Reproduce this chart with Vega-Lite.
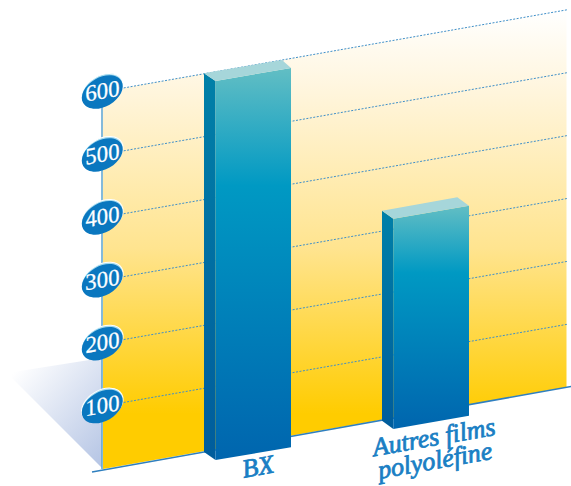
{
"$schema":"https://vega.github.io/schema/vega-lite/v6.json",
"width":571,"height":486,"padding":0,
"autosize":{"type":"none"},
"background":"white",
"config":{"view":{"stroke":null}},
"data":{"values":[
{"part":"wall","pos":103,"level":600,"low":0},
{"part":"wall","pos":566.5,"level":730,"low":130},
{"part":"shadow","pos":7,"level":152.6,"low":152.6},
{"part":"shadow","pos":102,"level":176.5,"low":1.6},
{"part":"grid","tick":100,"pos":103,"level":100},{"part":"grid","tick":100,"pos":567,"level":230},
{"part":"grid","tick":200,"pos":103,"level":200},{"part":"grid","tick":200,"pos":567,"level":330},
{"part":"grid","tick":300,"pos":103,"level":300},{"part":"grid","tick":300,"pos":567,"level":430},
{"part":"grid","tick":400,"pos":103,"level":400},{"part":"grid","tick":400,"pos":567,"level":530},
{"part":"grid","tick":500,"pos":103,"level":500},{"part":"grid","tick":500,"pos":567,"level":630},
{"part":"grid","tick":600,"pos":103,"level":600},{"part":"grid","tick":600,"pos":567,"level":730},
{"part":"axis","pos":102,"level":0,"low":620},
{"part":"base","pos":92,"level":-4.8},{"part":"base","pos":571,"level":131.2},
{"part":"side","bar":"BX","pos":204,"level":629.1,"low":27},
{"part":"side","bar":"BX","pos":215.5,"level":616.9,"low":14.3},
{"part":"front","bar":"BX","pos":215.5,"level":616.9,"low":14.3},
{"part":"front","bar":"BX","pos":291,"level":637.5,"low":34.5},
{"part":"top","bar":"BX","pos":204,"level":629.1,"low":629.1},
{"part":"top","bar":"BX","pos":215.5,"level":632.3,"low":616.9},
{"part":"top","bar":"BX","pos":282,"level":650.2,"low":635},
{"part":"top","bar":"BX","pos":291,"level":637.5,"low":637.5},
{"part":"side2","bar":"Autres","pos":382,"level":410.7,"low":76.8},
{"part":"side2","bar":"Autres","pos":393.3,"level":397.9,"low":63.6},
{"part":"front2","bar":"Autres","pos":393.3,"level":397.9,"low":63.6},
{"part":"front2","bar":"Autres","pos":469,"level":418.6,"low":84.7},
{"part":"top2","bar":"Autres","pos":382,"level":410.7,"low":410.7},
{"part":"top2","bar":"Autres","pos":393.3,"level":413.7,"low":397.9},
{"part":"top2","bar":"Autres","pos":457.3,"level":432,"low":415.4},
{"part":"top2","bar":"Autres","pos":469,"level":418.6,"low":418.6},
{"part":"oval","pos":102.3,"level":600,"label":"600"},
{"part":"oval","pos":102.3,"level":500,"label":"500"},
{"part":"oval","pos":102.3,"level":400,"label":"400"},
{"part":"oval","pos":102.3,"level":300,"label":"300"},
{"part":"oval","pos":102.3,"level":200,"label":"200"},
{"part":"oval","pos":102.3,"level":100,"label":"100"},
{"part":"cat","pos":258,"level":3,"label":"BX"},
{"part":"cat","pos":434,"level":50,"label":"Autres films"},
{"part":"cat","pos":435,"level":13,"label":"polyoléfine"}
]},
"encoding":{
"x":{"field":"pos","type":"quantitative","scale":{"domain":[0,571],"nice":false,"zero":false},"axis":null},
"y":{"field":"level","type":"quantitative","scale":{"domain":[-27.03,745.6],"nice":false,"zero":false},"axis":null}
},
"layer":[
{"transform":[{"filter":"datum.part==='shadow'"}],
 "mark":{"type":"area","color":{"gradient":"linear","x1":0,"y1":0,"x2":1,"y2":1,"stops":[{"offset":0.1,"color":"#ffffff"},{"offset":1,"color":"#b4c4e4"}]}},
 "encoding":{"y2":{"field":"low"}}},
{"transform":[{"filter":"datum.part==='wall'"}],
 "mark":{"type":"area","color":{"gradient":"linear","x1":0,"y1":0,"x2":0,"y2":1,"stops":[{"offset":0,"color":"#ffffff"},{"offset":0.18,"color":"#fff5dc"},{"offset":0.52,"color":"#ffe48f"},{"offset":0.88,"color":"#ffcc00"},{"offset":1,"color":"#ffcc00"}]}},
 "encoding":{"y2":{"field":"low"}}},
{"transform":[{"filter":"datum.part==='grid'"}],
 "mark":{"type":"line","color":"#3f8fc8","strokeWidth":1,"strokeDash":[2,1.5]},
 "encoding":{"detail":{"field":"tick","type":"nominal"}}},
{"transform":[{"filter":"datum.part==='axis'"}],
 "mark":{"type":"rule","color":"#5ba3cf","strokeWidth":1.5},
 "encoding":{"y2":{"field":"low"}}},
{"transform":[{"filter":"datum.part==='base'"}],
 "mark":{"type":"line","color":"#2f7fbf","strokeWidth":1.5}},
{"transform":[{"filter":"datum.part==='side'"}],
 "mark":{"type":"area","color":{"gradient":"linear","x1":0,"y1":0,"x2":0,"y2":1,"stops":[{"offset":0,"color":"#0080a8"},{"offset":1,"color":"#005c9c"}]}},
 "encoding":{"y2":{"field":"low"}}},
{"transform":[{"filter":"datum.part==='front'"}],
 "mark":{"type":"area","color":{"gradient":"linear","x1":0,"y1":0,"x2":0,"y2":1,"stops":[{"offset":0,"color":"#62bec4"},{"offset":0.3,"color":"#0099c3"},{"offset":1,"color":"#0065ae"}]}},
 "encoding":{"y2":{"field":"low"}}},
{"transform":[{"filter":"datum.part==='top'"}],
 "mark":{"type":"area","color":"#a6d6da"},
 "encoding":{"y2":{"field":"low"}}},
{"transform":[{"filter":"datum.part==='side2'"}],
 "mark":{"type":"area","color":{"gradient":"linear","x1":0,"y1":0,"x2":0,"y2":1,"stops":[{"offset":0,"color":"#0080a8"},{"offset":1,"color":"#005c9c"}]}},
 "encoding":{"y2":{"field":"low"}}},
{"transform":[{"filter":"datum.part==='front2'"}],
 "mark":{"type":"area","color":{"gradient":"linear","x1":0,"y1":0,"x2":0,"y2":1,"stops":[{"offset":0,"color":"#62bec4"},{"offset":0.3,"color":"#0099c3"},{"offset":1,"color":"#0065ae"}]}},
 "encoding":{"y2":{"field":"low"}}},
{"transform":[{"filter":"datum.part==='top2'"}],
 "mark":{"type":"area","color":"#a6d6da"},
 "encoding":{"y2":{"field":"low"}}},
{"transform":[{"filter":"datum.part==='oval'"}],
 "mark":{"type":"point","filled":true,"opacity":1,"color":"#9fd8ee","stroke":"#ffffff","strokeWidth":1,"shape":"M-1,0A1,0.66,0,1,1,1,0A1,0.66,0,1,1,-1,0Z","angle":-30,"size":2000,"yOffset":-1}},
{"transform":[{"filter":"datum.part==='oval'"}],
 "mark":{"type":"point","filled":true,"opacity":1,"color":"#0a77bf","shape":"M-1,0A1,0.66,0,1,1,1,0A1,0.66,0,1,1,-1,0Z","angle":-30,"size":1950,"yOffset":0.5}},
{"transform":[{"filter":"datum.part==='oval'"}],
 "mark":{"type":"text","font":"Liberation Serif","fontStyle":"oblique","fontSize":23,"color":"#ffffff","stroke":"#ffffff","strokeWidth":0.3,"angle":-10,"align":"center","baseline":"middle"},
 "encoding":{"text":{"field":"label","type":"nominal"}}},
{"transform":[{"filter":"datum.part==='cat'"}],
 "mark":{"type":"text","font":"Liberation Serif","fontStyle":"oblique","fontSize":26,"color":"#1a7fc4","stroke":"#1a7fc4","strokeWidth":0.8,"angle":-10,"align":"center","baseline":"middle"},
 "encoding":{"text":{"field":"label","type":"nominal"}}}
]
}
